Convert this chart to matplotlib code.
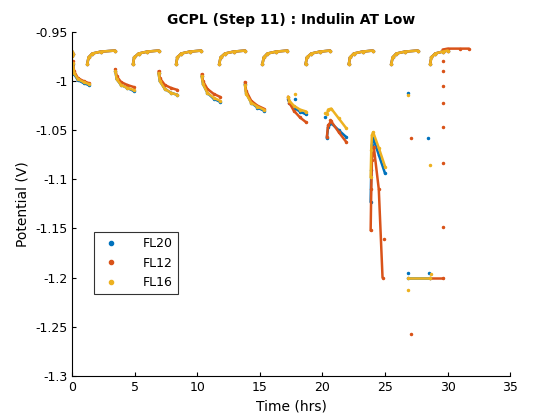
import matplotlib.pyplot as plt
import numpy as np

series = ["FL20", "FL12", "FL16"]
colors = {"FL20": "#0072BD", "FL12": "#D95319", "FL16": "#EDB120"}

# charge (upper) segments: times, shared by all cells
upper_t = [[1.2, 1.3, 1.6, 2.3, 3.4],
           [4.85, 4.95, 5.3, 6.0, 6.9],
           [8.3, 8.4, 8.7, 9.4, 10.3],
           [11.75, 11.85, 12.2, 12.9, 13.8],
           [15.2, 15.3, 15.6, 16.3, 17.2],
           [18.65, 18.75, 19.1, 19.8, 20.6],
           [22.1, 22.2, 22.5, 23.2, 24.0],
           [25.5, 25.6, 25.9, 26.6, 27.6],
           [28.6, 28.7, 29.0, 29.6, 30.0]]
upper_v = [-0.983, -0.976, -0.972, -0.970, -0.969]
start_t = [0.0, 0.02, 0.05]
start_v = [-0.975, -0.970, -0.972]
final_t = [29.6, 30.0, 31.0, 31.7]
final_v = [-0.968, -0.967, -0.967, -0.967]

# discharge (lower) segments
lower_t = [[0.05, 0.15, 0.45, 0.9, 1.3],
           [3.45, 3.55, 3.9, 4.4, 4.9],
           [6.9, 7.0, 7.4, 7.9, 8.4],
           [10.35, 10.45, 10.8, 11.3, 11.8],
           [13.8, 13.9, 14.3, 14.8, 15.3],
           [17.25, 17.35, 17.7, 18.2, 18.7],
           [20.35, 20.45, 20.7, 21.3, 21.9]]
lower_v = {
    "FL20": [[-0.983, -0.993, -0.999, -1.002, -1.004],
             [-0.990, -0.998, -1.004, -1.007, -1.010],
             [-0.992, -1.000, -1.008, -1.012, -1.014],
             [-0.995, -1.003, -1.012, -1.018, -1.021],
             [-1.003, -1.012, -1.022, -1.027, -1.030],
             [-1.018, -1.022, -1.027, -1.031, -1.034],
             [-1.058, -1.047, -1.043, -1.050, -1.057]],
    "FL12": [[-0.980, -0.990, -0.997, -1.000, -1.002],
             [-0.988, -0.995, -1.001, -1.004, -1.006],
             [-0.990, -0.997, -1.004, -1.007, -1.009],
             [-0.993, -1.000, -1.008, -1.013, -1.016],
             [-1.001, -1.010, -1.020, -1.025, -1.028],
             [-1.016, -1.022, -1.030, -1.037, -1.042],
             [-1.057, -1.045, -1.041, -1.052, -1.062]],
    "FL16": [[-0.982, -0.992, -0.998, -1.001, -1.003],
             [-0.990, -0.998, -1.004, -1.007, -1.009],
             [-0.992, -1.000, -1.008, -1.012, -1.014],
             [-0.995, -1.003, -1.012, -1.017, -1.020],
             [-1.004, -1.013, -1.022, -1.026, -1.029],
             [-1.016, -1.020, -1.025, -1.029, -1.031],
             [-1.034, -1.029, -1.028, -1.038, -1.048]],
}

# cycle 8: steep dip and recovery near 24 h
dip_t = {"FL20": [23.85, 23.9, 23.95, 24.05, 24.5, 25.0],
         "FL12": [23.85, 23.9, 23.95, 24.1, 24.5, 24.8],
         "FL16": [23.85, 23.9, 23.95, 24.05, 24.5, 25.0]}
dip_v = {"FL20": [-1.123, -1.090, -1.065, -1.058, -1.075, -1.094],
         "FL12": [-1.152, -1.110, -1.080, -1.067, -1.110, -1.200],
         "FL16": [-1.098, -1.070, -1.055, -1.052, -1.068, -1.087]}

# flat section at the cut-off voltage
flat_t = {"FL20": [26.8, 28.6], "FL12": [28.6, 29.6], "FL16": [26.8, 28.6]}
flat_v = {"FL20": [-1.2, -1.2], "FL12": [-1.2, -1.2], "FL16": [-1.2, -1.2]}

# stray single points
stray_t = {"FL20": [26.8, 26.8, 28.4, 28.5, 20.2, 17.8],
           "FL12": [27.1, 27.1, 29.6, 29.6, 29.6, 29.6, 29.6, 29.6, 29.6, 24.9, 20.6],
           "FL16": [26.8, 26.8, 28.6, 28.7, 20.2, 17.8]}
stray_v = {"FL20": [-1.012, -1.195, -1.058, -1.195, -1.037, -1.018],
           "FL12": [-1.058, -1.257, -0.980, -0.990, -1.005, -1.022, -1.047, -1.083, -1.148, -1.161, -1.040],
           "FL16": [-1.014, -1.213, -1.085, -1.196, -1.032, -1.013]}

fig = plt.figure(figsize=(5.6, 4.2), dpi=100)
ax = fig.add_axes([0.129, 0.105, 0.782, 0.819])

for name in series:
    c = colors[name]
    kw = dict(color=c, marker=".", markersize=3, linewidth=1.8, solid_capstyle="round")
    ax.plot(start_t, start_v, **kw)
    for t in upper_t:
        ax.plot(t, upper_v, **kw)
    for t, v in zip(lower_t, lower_v[name]):
        ax.plot(t, v, **kw)
    ax.plot(dip_t[name], dip_v[name], **kw)
    ax.plot(flat_t[name], flat_v[name], **kw)
    ax.plot(stray_t[name], stray_v[name], ".", color=c, markersize=3, linestyle="none")
    if name == "FL12":
        ax.plot(final_t, final_v, **kw)
    ax.plot([], [], ".", color=c, markersize=6, label=name)

ax.set_xlim(0, 35)
ax.set_ylim(-1.3, -0.95)
ax.set_xticks(np.arange(0, 36, 5))
ax.set_yticks(np.arange(-1.3, -0.949, 0.05))
ax.set_yticklabels(["-1.3", "-1.25", "-1.2", "-1.15", "-1.1", "-1.05", "-1", "-0.95"])
ax.tick_params(direction="in", labelsize=9, length=3)
ax.spines["top"].set_visible(False)
ax.spines["right"].set_visible(False)
ax.set_xlabel("Time (hrs)", fontsize=10)
ax.set_ylabel("Potential (V)", fontsize=10)
ax.set_title("GCPL (Step 11) : Indulin AT Low", fontsize=10, fontweight="bold")
leg = ax.legend(loc="lower left", bbox_to_anchor=(0.035, 0.22), fancybox=False,
                edgecolor="black", fontsize=9, handletextpad=1.5, borderpad=0.4)
leg.get_frame().set_linewidth(0.8)

fig.savefig("out.png", dpi=100)
